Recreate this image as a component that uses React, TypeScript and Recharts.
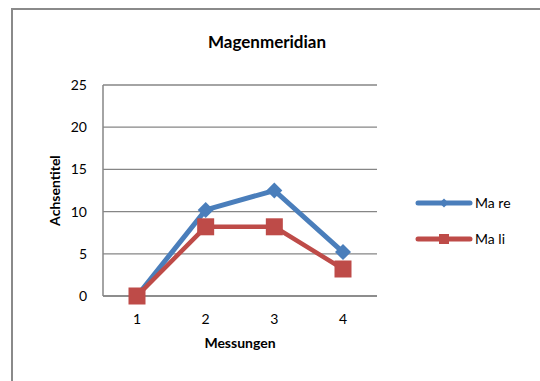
import React from "react";
import { LineChart, Line, XAxis, YAxis, CartesianGrid, Label } from "recharts";

const categories = ["1", "2", "3", "4"];
const maRe = [0, 10.2, 12.5, 5.2];
const maLi = [0, 8.2, 8.2, 3.2];
const yTicks = [0, 5, 10, 15, 20, 25];
const seriesNames = ["Ma re", "Ma li"];

const BLUE = "#4A7EBB";
const RED = "#BE4B48";
const GRID = "#868686";
const FONT = "Lato, 'Open Sans', sans-serif";
const FS = 14;

const data = categories.map((c, i) => ({ m: c, re: maRe[i], li: maLi[i] }));

const Diamond = (props: any) => {
  const { cx, cy, fill, index } = props;
  if (cx == null || cy == null) return null;
  const r = 8;
  return (
    <polygon
      key={`d-${index}`}
      points={`${cx},${cy - r} ${cx + r},${cy} ${cx},${cy + r} ${cx - r},${cy}`}
      fill={fill}
    />
  );
};

const Square = (props: any) => {
  const { cx, cy, fill, index } = props;
  if (cx == null || cy == null) return null;
  const s = 17;
  return <rect key={`s-${index}`} x={cx - s / 2} y={cy - s / 2} width={s} height={s} fill={fill} />;
};

const legendItems = [
  { name: seriesNames[0], color: BLUE, shape: "diamond" },
  { name: seriesNames[1], color: RED, shape: "square" },
];

const ChartLegend = () => (
  <svg width={125} height={60} style={{ position: "absolute", left: 414, top: 195, overflow: "visible" }}>
    {legendItems.map((it, i) => {
      const y = 8 + i * 36;
      return (
        <g key={it.name}>
          <line x1={4} y1={y} x2={56} y2={y} stroke={it.color} strokeWidth={5} strokeLinecap="round" />
          {it.shape === "diamond" ? (
            <polygon points={`30,${y - 4.5} 34.5,${y} 30,${y + 4.5} 25.5,${y}`} fill={it.color} />
          ) : (
            <rect x={25} y={y - 5} width={10} height={10} fill={it.color} />
          )}
          <text x={61} y={y + 5} fontSize={FS} fill="#000" fontFamily={FONT}>
            {it.name}
          </text>
        </g>
      );
    })}
  </svg>
);

export default function App() {
  return (
    <div style={{ position: "fixed", left: 0, top: 0, width: 540, height: 381, overflow: "hidden", background: "#fff" }}>
      <style>{`html,body{margin:0;padding:0;overflow:hidden;}`}</style>
      <div
        style={{
          position: "absolute",
          left: 11,
          top: 8,
          width: 560,
          height: 400,
          border: "2px solid #8a8a8a",
          boxSizing: "border-box",
        }}
      />
      <div
        style={{
          position: "absolute",
          left: 0,
          width: 534,
          top: 31,
          textAlign: "center",
          fontFamily: FONT,
          fontWeight: "bold",
          fontSize: 17,
          lineHeight: "22px",
          color: "#000",
        }}
      >
        Magenmeridian
      </div>
      <div style={{ position: "absolute", left: 0, top: 0 }}>
        <LineChart width={540} height={381} data={data} margin={{ top: 85, right: 163, bottom: 25, left: 43 }}>
          <CartesianGrid vertical={false} stroke={GRID} strokeWidth={1.3} />
          <XAxis
            dataKey="m"
            padding={{ left: 34, right: 34 }}
            axisLine={{ stroke: GRID, strokeWidth: 1.5 }}
            tickLine={false}
            tick={{ fill: "#000", fontSize: FS, fontFamily: FONT }}
            tickMargin={12}
            height={60}
          >
            <Label
              value="Messungen"
              position="insideBottom"
              offset={8}
              style={{ fontWeight: "bold", fontSize: FS, fontFamily: FONT, fill: "#000" }}
            />
          </XAxis>
          <YAxis
            domain={[0, 25]}
            ticks={yTicks}
            width={60}
            axisLine={{ stroke: GRID, strokeWidth: 1.5 }}
            tickLine={false}
            tick={{ fill: "#000", fontSize: FS, fontFamily: FONT }}
            tickMargin={10}
          >
            <Label
              value="Achsentitel"
              angle={-90}
              position="insideLeft"
              offset={12}
              style={{ textAnchor: "middle", fontWeight: "bold", fontSize: FS, fontFamily: FONT, fill: "#000" }}
            />
          </YAxis>
          <Line
            name={seriesNames[0]}
            dataKey="re"
            stroke={BLUE}
            strokeWidth={5}
            fill={BLUE}
            dot={(p: any) => <Diamond {...p} fill={BLUE} />}
            isAnimationActive={false}
          />
          <Line
            name={seriesNames[1]}
            dataKey="li"
            stroke={RED}
            strokeWidth={4.5}
            fill={RED}
            dot={(p: any) => <Square {...p} fill={RED} />}
            isAnimationActive={false}
          />
        </LineChart>
      </div>
      <ChartLegend />
    </div>
  );
}
